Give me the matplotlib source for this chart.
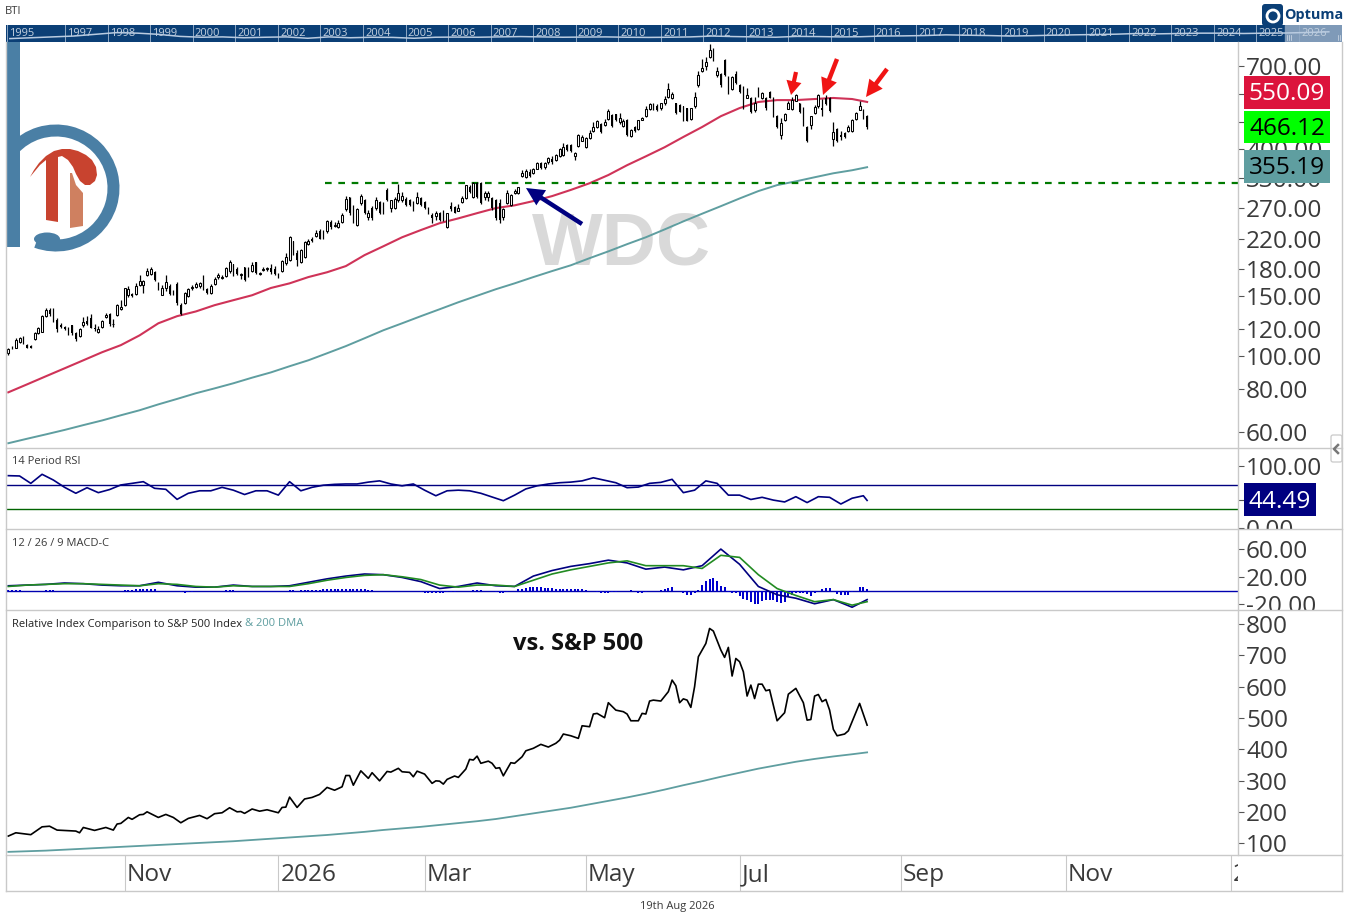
import numpy as np
import pandas as pd
import matplotlib
matplotlib.use("Agg")
import matplotlib.pyplot as plt
from matplotlib.patches import Rectangle, Wedge, Ellipse, Polygon, FancyArrowPatch, Circle, FancyBboxPatch
from matplotlib.ticker import FixedLocator, FormatStrFormatter, NullLocator
from matplotlib.transforms import Bbox, ScaledTranslation

plt.rcParams["font.family"] = ["Open Sans", "DejaVu Sans"]

W, H = 1349, 924

# daily candles, oldest first
open_ = [102,106,106,110,113,108,107,112,116.5,118,
         131,136,137,127.5,123,121.5,121,123,117,114.5,
         123,127,129,121,118,122,130,133,124,132,
         137,141,151,152,152,161,161,172,173,176,
         163,151,158,160,155,162,141,143,150,158,
         159,160,170,157,153,162,170,169,171,177,
         186,180,172,182,178,177,188,173,178,180,
         181,180,174,177,187,190,216,200,188,194,
         212,219,224,231,222,231,246,240,238,246,
         268,290,270,241,279,285,254,271,270,281,
         279,305,270,271,285,285,287,285,281,279,
         289,281,271,258,256,261,258,238,273,272,
         265,281,289,311,291,319,320,291,290,288,
         285,280,255,279,275,299,298,335,333,345,
         342,352,365,356,367,376,372,382,385,412,
         412,383,410,424,406,432,453,465,475,471,
         490,504,506,481,468,487,438,465,459,489,
         500,525,543,535,530,545,568,565,545,539,
         535,528,490,535,617,675,700,745,785,660,
         665,730,650,600,665,615,610,565,565,521,
         600,565,565,590,565,500,441,487,525,525,
         555,545,530,465,470,510,535,530,565,565,
         430,460,440,447,453,453,490,521,521,500]
high = [106,107,113,114,114.5,108.5,108,117.5,122,131.5,
        138,138,138,129,125,122.5,122,123.5,117.5,121,
        130,131,133,124,122.5,127.5,134,133.5,128,142,
        146,158.5,160,153,163,172,167,181,182,177,
        164,161,172,162,156,164,143,153.5,158,161,
        164,165,172,158,162,170,175,172,182,191,
        186,182,175,182,182,188,188,176,182,182,
        185,183,175,190,200,224,217,204,205,216,
        220,222,233,234,233,250,250,246,249,262,
        293,290,276,270,296,287,266,273,290,284,
        281,308,286,290,318,300,290,287,283,300,
        291,283,272,262,265,263,266,262,281,273,
        277,293,316,316,322,321,321,302,302,290,
        287,287,271,304,296,307,312,348,350,350,
        354,368,367,369,381,383,389,405,418,416,
        416,392,445,441,436,456,482,487,477,490,
        525,506,508,510,490,490,458,468,489,497,
        535,548,548,543,548,572,625,590,547,541,
        537,530,530,590,675,735,745,810,790,695,
        670,735,655,655,675,620,612,605,567,570,
        610,590,567,592,567,503,495,510,552,570,
        582,547,532,467,502,540,582,560,575,570,
        480,462,452,450,470,490,513,555,525,505]
low = [101,105,106,109,108.5,105.5,105.5,111.5,116,117.5,
       130.5,131,126,118,120.5,119,115.5,115.5,110.5,113.5,
       122,123,120.5,118.5,117,121,129,122.5,122,131,
       136,140,149,148.5,151,160,153,171,172,166,
       156,151,155,151,151,141,132,142,149,156,
       158,158,156,152,152,161,168,168,170,175,
       171,172,168,166,170,176,173,172,177,177,
       174,172,169,176,184,189,197,183,187,193,
       211,215,223,219,220,229,235,238,237,245,
       265,258,244,240,275,259,249,250,267,260,
       260,283,263,269,281,282,273,274,265,277,
       273,269,260,244,250,248,247,237,265,261,
       264,279,287,299,289,289,277,286,283,267,
       250,244,249,277,273,297,297,332,331,332,
       340,350,350,352,364,364,370,380,383,396,
       394,372,408,422,404,428,450,463,448,468,
       488,466,485,475,466,438,436,450,457,487,
       498,520,520,518,520,540,566,562,508,513,
       483,483,488,530,610,672,680,740,725,650,
       610,655,580,595,620,585,525,563,512,515,
       570,560,520,563,498,463,430,485,523,522,
       552,512,468,420,458,508,530,500,540,515,
       410,420,425,432,450,450,487,520,492,458]
close = [105,105.5,111.5,113,110,106,106,116.5,120.5,131,
         136,133,127,120,122,120,117,116.5,112,120,
         126,124.5,121,120,120,126.5,132,124,124.5,141,
         139,158,157,150,160,166,166,177,180,167,
         157,158,165,152,154,143,133,153,156.5,159,
         162,163,157,153,160,168,172,170,181,188,
         173,174,174,167,172,184,175,175,180,181,
         176,174,170,189,195,223,199,190,204,215,
         216,216,229,220,221,248,238,241,244,258,
         287,262,246,269,292,261,261,252,285,262,
         262,285,285,287,298,293,275,275,268,291,
         275,271,261,252,261,249,253,261,268,262,
         271,289,315,300,319,291,279,298,298,271,
         252,249,269,298,294,302,310,342,346,334,
         352,365,354,365,377,368,385,401,406,398,
         396,390,441,436,433,447,465,484,450,480,
         517,468,487,493,484,441,456,453,487,493,
         525,543,525,520,545,560,600,580,510,515,
         485,485,528,570,660,690,720,780,730,675,
         615,660,585,650,625,590,530,578,515,548,
         575,585,530,565,500,465,478,507,548,557,
         578,515,471,423,500,532,578,520,542,518,
         450,423,435,435,465,487,510,535,495,466.12]

# moving averages and MACD, read every 5 bars
slow_bars = list(range(0, 226, 5)) + [229]
ma_mid = [78.5,82.8,87.4,92.2,97.3,102.7,107.7,115,124.7,130.8,
          135,140.8,145.6,150.5,158,163,170,175.6,183,197,
          209,222,233,244,252,261,270,275,283,292.6,
          305,319,337,360,382,406,435,465,500,528,
          550,557,557,561,565,561,550.09]
ma_long = [55.8,57.5,59.2,61,63,65,67.3,69.6,72.4,75.1,
           78,80.6,83.4,86.6,89.7,93.5,97.3,102,107,112.8,
           119,124.7,130.8,137,143.6,150,156.7,163,170,177,
           184,193,202,212,222,234,247,260,273.5,288,
           302.6,315,323,332,341,348,355.19]
relative_ma = [72,74,76,79,82,85,88,91,94,97,
               100,103,106,110,114,118,122,126,131,136,
               142,147,152,158,164,170,177,186,195,204,
               213,224,235,246,258,271,285,298,312,325,
               338,349,360,369,377,384,390]
macd = [7,8,9,11,10,8,7,7,12,7,5,5,8,6,6,7,12,17,21,24,23,19,13,3,6,11,7,6,21,29,
        35,39,44,40,31,34,30,36,60,38,6,-6,-11,-19,-13,-24,-13]
macd_signal = [6,8,9,10,10,9,8,7,10,9,6,5,7,6,6,6,10,15,19,22,23,20,16,8,5,8,8,6,15,24,
               30,35,40,43,36,36,36,32,51,48,23,3,-7,-16,-13,-21,-16]
support_level = 319
support_from_bar = 84.5

# RSI, read every 3 bars
rsi_bars = list(range(0, 229, 3)) + [229]
rsi = [84.4,83.9,72,86.6,77.4,65.6,56,65,57,62,69.4,72,74.7,64,62.4,46.2,56,60,60,65.6,
       61,54,60,60,53,74.7,60,65.6,69,70.4,71,71,74,76,71,68,71,61,52,60,
       61,60,56,50,44,53,63,68,71,73,74,76,81,77,73,65,66,72,73.6,78.5,
       57,61,76,72,53,53,46,49.5,45,42,50.5,41,50.5,49.5,38.7,48,52,44.49]

# relative line, read at its turning points
relative_bars = [0,2,6,9,11,13,18,19,20,23,26,28,29,30,32,33,35,36,37,40,42,44,46,48,51,53,55,57,59,61,
                 62,63,65,67,69,72,73,74,75,77,79,81,83,85,87,89,90,91,92,94,96,97,99,101,102,104,105,107,108,109,
                 111,113,114,115,116,117,119,120,122,123,124,125,126,128,129,130,131,132,134,135,
                 137,138,140,142,144,146,147,148,150,152,153,155,156,157,159,160,162,164,165,166,
                 168,169,170,171,172,174,176,177,178,179,180,181,182,183,184,186,187,188,190,191,
                 192,193,194,195,196,197,198,199,200,201,202,203,205,207,208,210,212,213,214,215,
                 216,217,218,219,220,221,223,224,227,229]
relative = [122.5,133,127,152,154,141.6,138.5,133,150,140.6,150,141.6,161,163,182,176,190.6,191.7,200,182,
            191.7,182,165,179,188.5,178,194,197,213,200,
            201,195,209,202,206.6,197,214,215,247,214,241,246,255.6,278,269,280,316,316,285,331,
            307,325,299,329,327,339,328,326,312,330,
            320.6,291,299,298,288.6,303.7,314.4,310,336.7,367.6,365.5,378,355,362,355,339,341,315,357,355,
            376,395,403,415.6,407,419,429,448.6,443,434.7,475,472,512.5,514.6,500.8,548.7,525,520,512.5,491,
            491,514.6,512.5,554,557,554,584,621,603,548.7,561,557,533.8,600,695.6,738,786,777.7,717,693.5,
            725.5,634,690,679.7,647.7,570,605,562,608,608,587,590,491,516.7,576,594.5,548.7,493,495,570,
            575,552,559,525,463.5,443,448.6,459,546.5,477]

macd_hist = [1,1,1,1,0,0,0,0,0,0,
             1,1,1,0,0,0,0,0,-1,0,
             0,0,0,0,0,0,0,0,0,0,
             0,1,1,1,2,2,3,3,3,2,
             0,0,0,0,0,-1,-2,-3,-2,-2,
             0,0,0,0,0,0,0,0,1,1,
             1,0,0,0,0,0,0,0,0,0,
             0,0,0,0,0,1,1,0,1,1,
             1,1,1,1,2,2,2,3,3,2,
             3,3,3,2,2,2,1,1,0,0,
             0,0,-1,-1,-1,-1,-1,-1,-1,-1,
             -2,-3,-3,-4,-4,-3,-3,-2,-2,-2,
             -1,-1,-1,0,1,1,1,0,-1,-1,
             -2,-3,-3,-2,-1,0,2,3,4,5,
             5,5,5,4,4,4,3,3,3,3,
             3,3,2,2,1,0,-1,-2,-3,-3,
             -3,-2,-2,-1,-1,0,1,0,-3,-3,
             -2,0,0,0,1,3,4,5,0,0,
             -3,-6,-6,-4,1,8,14,17,18,14,
             7,5,-2,-3,-4,-8,-12,-14,-17,-19,
             -19,-15,-13,-13,-13,-16,-18,-17,-9,-7,
             -3,-4,-4,-5,-8,-4,0,2,4,4,
             0,-5,-6,-6,-6,-2,0,5,5,3]

# tick labels
main_ticks = [60,80,100,120,150,180,220,270,330,400,480,580,700]
rsi_ticks = [0,44.49,100]
macd_ticks = [-20,20,60]
relative_ticks = [100,200,300,400,500,600,700,800]
month_ticks = ["2025-11","2026-01","2026-03","2026-05","2026-07","2026-09","2026-11","2027-01"]
month_labels = ["Nov","2026","Mar","May","Jul","Sep","Nov","2027"]
closed_days = ["2025-11-27","2025-12-25","2026-01-01","2026-01-19","2026-02-16","2026-04-03",
               "2026-05-25","2026-06-19","2026-07-03"]

# year strip along the top
nav_years = [1995,1997,1998,1999,2000,2001,2002,2003,2004,2005,2006,2007,2008,2009,2010,
             2011,2012,2013,2014,2015,2016,2017,2018,2019,2020,2021,2022,2023,2024,2025,2026]
nav_level = [20,25,30,35,45,55,52,45,33,28,30,25,28,30,22,30,25,28,27,22,28,29,28,30,32,30,28,29,30,28,
             27,28,30,35,32,30,28,33,32,30,31,35,36,38,42,40,38,35,37,40,42,44,46,50,48,50,52,52,50,52,
             53,56,60]

days = pd.bdate_range("2025-09-19", "2027-02-01")
days = days[~days.isin(pd.to_datetime(closed_days))]
month_pos = [days.searchsorted(pd.Timestamp(m + "-01")) for m in month_ticks]

GRID = "#c9c9c9"
TEXT = "#3a3a3a"
RED = "#cf3358"
TEAL = "#5f9ea0"
NAVY = "#000080"


def panel(top, bottom):
    a = fig.add_axes([7 / W, (H - bottom) / H, 1231 / W, (bottom - top) / H])
    for s in a.spines.values():
        s.set_visible(False)
    a.set_xlim(-0.35, 327.9)
    a.patch.set_alpha(0)
    a.yaxis.tick_right()
    a.tick_params(axis="y", length=4.3, width=0.8, color="#555555", pad=1.5,
                  labelsize=17.6, labelcolor=TEXT)
    a.tick_params(axis="x", bottom=False, labelbottom=False)
    a.yaxis.set_major_formatter(FormatStrFormatter("%.2f"))
    a.yaxis.set_minor_locator(NullLocator())
    return a


def clip_labels(a, top, bottom):
    box = Bbox.from_extents(0, H - bottom, W, H - top)
    for t in a.get_yticklabels():
        t.set_clip_box(box)
        t.set_clip_on(True)


fig = plt.figure(figsize=(W / 100, H / 100), dpi=100, facecolor="white")

# price panel
ax = panel(42, 448)
ax.set_yscale("log")
ax.set_ylim(54.04, 822.3)
ax.yaxis.set_major_locator(FixedLocator(main_ticks))
ax.yaxis.set_major_formatter(FormatStrFormatter("%.2f"))
ax.yaxis.set_minor_locator(NullLocator())
ax.text(0.4988, 0.5, "WDC", transform=ax.transAxes, ha="center", va="center", fontsize=54,
        fontweight="bold", family="Liberation Sans", color="#d9d9d9", zorder=0)
bars = np.arange(len(close))
o, h, l, c = map(np.array, (open_, high, low, close))
ax.vlines(bars, l, h, color="black", lw=0.9, zorder=3)
up = c >= o
ax.bar(bars[up], (c - o)[up], bottom=o[up], width=0.52, facecolor="white", edgecolor="black", lw=0.75, zorder=4)
ax.bar(bars[~up], (o - c)[~up], bottom=c[~up], width=0.36, facecolor="black", edgecolor="none", zorder=4)
ax.plot(slow_bars, ma_mid, color=RED, lw=1.5, zorder=2)
ax.plot(slow_bars, ma_long, color=TEAL, lw=1.4, zorder=2)
ax.plot([support_from_bar, 327.9], [support_level, support_level], color="#007a00", lw=1.6,
        ls=(0, (3, 3)), zorder=2)

# RSI panel
ax_rsi = panel(448, 529)
ax_rsi.set_ylim(-1.6, 129)
ax_rsi.yaxis.set_major_locator(FixedLocator(rsi_ticks))
ax_rsi.axhline(70, color=NAVY, lw=1.0)
ax_rsi.axhline(30, color="#006400", lw=1.0)
ax_rsi.plot(rsi_bars, rsi, color=NAVY, lw=1.2)

# MACD panel
ax_macd = panel(529, 610)
ax_macd.set_ylim(-28, 89)
ax_macd.yaxis.set_major_locator(FixedLocator(macd_ticks))
ax_macd.axhline(0, color="#0000b0", lw=1.0)
ax_macd.bar(bars, macd_hist, width=0.5, color="#0000cd", zorder=2)
ax_macd.plot(slow_bars, macd, color=NAVY, lw=1.2, zorder=3)
ax_macd.plot(slow_bars, macd_signal, color="#228b22", lw=1.2, zorder=4)

# relative panel
ax_rel = panel(610, 855)
ax_rel.set_ylim(62, 845)
ax_rel.yaxis.set_major_locator(FixedLocator(relative_ticks))
ax_rel.yaxis.set_major_formatter(FormatStrFormatter("%d"))
ax_rel.plot(relative_bars, relative, color="black", lw=1.2)
ax_rel.plot(slow_bars, relative_ma, color=TEAL, lw=1.3)
ax_rel.set_xticks(month_pos, month_labels)
ax_rel.tick_params(axis="x", bottom=True, labelbottom=True, length=26, width=0.8, color=GRID,
                   pad=-20, labelsize=17.6, labelcolor=TEXT)
shift = ScaledTranslation(2 / 100, 0, fig.dpi_scale_trans)
for t in ax_rel.get_xticklabels():
    t.set_ha("left")
    t.set_transform(t.get_transform() + shift)
    t.set_clip_box(Bbox.from_extents(0, 0, 1238, H))
    t.set_clip_on(True)

clip_labels(ax, 42, 448)
clip_labels(ax_rsi, 448, 529)
clip_labels(ax_macd, 529, 610)
clip_labels(ax_rel, 610, 855)

# year strip
ax_nav = fig.add_axes([6 / W, (H - 42) / H, 1336 / W, 17 / H])
ax_nav.set_xlim(1995.61, 2027.01)
ax_nav.set_ylim(0, 100)
ax_nav.set_facecolor("#0b3f76")
for s in ax_nav.spines.values():
    s.set_visible(False)
ax_nav.set_yticks([])
ax_nav.set_xticks([])
ax_nav.axvspan(2025.66, 2027.01, color="#7f9ab8", zorder=1)
for yr in nav_years:
    x0 = max(yr, 1995.63)
    ax_nav.axvline(x0, color="#8fa8c4", lw=0.7, zorder=2)
    ax_nav.text(x0 + 0.05, 50, str(yr), color="#c3d0de", fontsize=8, va="center", ha="left", zorder=3)
ax_nav.plot(1995.7 + 0.5 * np.arange(len(nav_level)), nav_level, color="#b9cbe0", lw=1.1, zorder=4)
for gx in (2025.72, 2025.76, 2025.8, 2026.92, 2026.96, 2027.0):
    ax_nav.plot([gx, gx], [10, 40], color="#d5deea", lw=0.5, zorder=5)

# everything placed by pixel on top
top = fig.add_axes([0, 0, 1, 1], zorder=10)
top.set_xlim(0, W)
top.set_ylim(H, 0)
top.axis("off")
top.patch.set_alpha(0)

for yy in (448, 529, 610, 855, 891):
    top.plot([6, 1342], [yy, yy], color=GRID, lw=1.0)
top.plot([6, 6], [42, 891], color=GRID, lw=1.0)
top.plot([1342, 1342], [42, 891], color=GRID, lw=1.0)
top.plot([1238, 1238], [42, 855], color=GRID, lw=1.0)

# value boxes
for (x0, x1, y0, y1, col, txt, tc) in [
    (1244, 1330, 76, 109, "#dc143c", "550.09", "white"),
    (1244, 1330, 110.5, 143, "#00ff00", "466.12", "black"),
    (1244, 1330, 150, 183, TEAL, "355.19", "black"),
    (1244, 1316, 483, 516, NAVY, "44.49", "white"),
]:
    top.add_patch(Rectangle((x0, y0), x1 - x0, y1 - y0, facecolor=col, edgecolor="none"))
    top.text((x0 + x1) / 2, (y0 + y1) / 2 + 2, txt, color=tc, fontsize=17.6, ha="center", va="center")

# collapse tab
top.add_patch(FancyBboxPatch((1331, 435), 11, 27, boxstyle="round,pad=0,rounding_size=2",
                             facecolor="white", edgecolor=GRID, lw=0.9))
top.plot([1338, 1334, 1338], [445, 449, 453], color="#777777", lw=1.8)

# small texts
top.text(5, 11, "BTI", fontsize=8, color=TEXT, va="center")
top.text(12, 462, "14 Period RSI", fontsize=8, color=TEXT, va="center")
top.text(12, 543, "12 / 26 / 9 MACD-C", fontsize=8, color=TEXT, va="center")
top.text(12, 624, "Relative Index Comparison to S&P 500 Index", fontsize=8, color="#222222", va="center")
top.text(245, 624, "& 200 DMA", fontsize=8, color=TEAL, va="center")
top.text(677, 906, "19th Aug 2026", fontsize=8, color=TEXT, ha="center", va="center")
top.text(578.5, 644.5, "vs. S&P 500", fontsize=17, fontweight="bold", color="#111111", ha="center", va="center")

# arrows
for (x0, y0, x1, y1, col, tw, hw, hl) in [
    (796, 72, 791, 95, "#f01414", 3.0, 11, 10),
    (837, 59, 823, 95, "#f01414", 3.2, 12, 12),
    (887, 69, 866, 97, "#f01414", 3.2, 12, 12),
    (582, 224, 526, 188, NAVY, 3.2, 13, 13),
]:
    top.add_patch(FancyArrowPatch((x0, y0), (x1, y1), mutation_scale=1, color=col, lw=0, shrinkA=0, shrinkB=0,
                                  arrowstyle=f"simple,tail_width={tw},head_width={hw},head_length={hl}"))

# logo
BLUE = "#4a7fa5"
top.add_patch(Rectangle((7, 42), 13, 205, facecolor=BLUE, edgecolor="none"))
top.add_patch(Wedge((56, 188), 63.5, 222, 470, width=12, facecolor=BLUE, edgecolor="none"))
top.add_patch(Ellipse((47, 239), 26, 13, facecolor=BLUE, edgecolor="none"))
top.add_patch(Polygon([(30, 177), (34, 170), (39, 163), (46, 156), (54, 151), (62, 149), (70, 149), (78, 151),
                       (86, 155), (92, 160), (96, 167), (97, 175), (95, 181), (90, 185), (85, 185), (80, 181),
                       (76, 174), (73, 167), (68, 160), (62, 156), (58, 157), (58, 222), (46, 220), (46, 160),
                       (40, 165)], facecolor="#c8432f", edgecolor="none"))
top.add_patch(Polygon([(70, 173), (72, 173), (76, 185), (83, 193), (83, 226), (70, 228)],
                      facecolor="#cf8060", edgecolor="none"))

# vendor mark
top.add_patch(FancyBboxPatch((1262, 4), 21, 22, boxstyle="round,pad=0,rounding_size=3",
                             facecolor="#0b3f76", edgecolor="none"))
top.add_patch(Circle((1273, 16), 6, facecolor="none", edgecolor="white", lw=2))
top.text(1284, 15, "Optuma", fontsize=10.4, fontweight="bold", color="#0b3f76", va="center")

fig.savefig("out.png", dpi=100)
